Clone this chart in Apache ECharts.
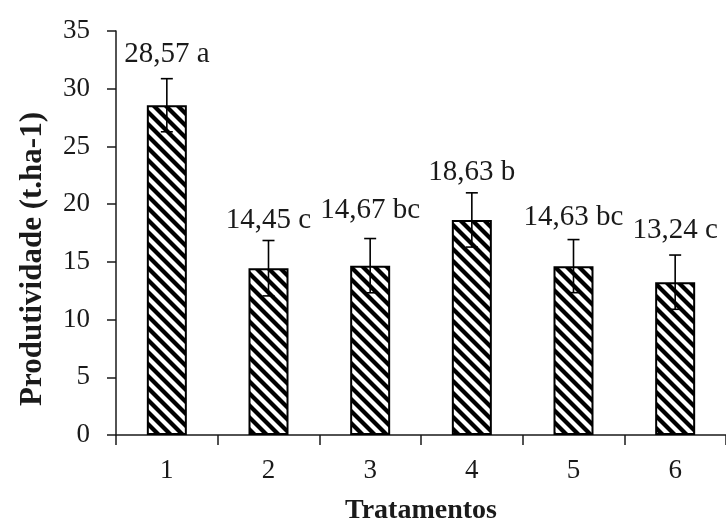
<!DOCTYPE html>
<html>
<head>
<meta charset="utf-8">
<script src="https://cdn.jsdelivr.net/npm/echarts@6/dist/echarts.min.js"></script>
<style>
  html, body { margin: 0; padding: 0; background: #fff; }
  #chart { width: 726px; height: 530px; }
</style>
</head>
<body>
<div id="chart"></div>
<script>
// Treatments and mean yield (t/ha) with error and Tukey letters
const categories = ['1', '2', '3', '4', '5', '6'];
const yieldMeans = [28.57, 14.45, 14.67, 18.63, 14.63, 13.24];
const yieldErrors = [2.3, 2.4, 2.35, 2.35, 2.3, 2.35];
const groupLetters = ['a', 'c', 'bc', 'b', 'bc', 'c'];
const yTicks = [0, 5, 10, 15, 20, 25, 30, 35];

const FONT = '"Liberation Serif", "Times New Roman", serif';
const INK = '#1a1a1a';

// Diagonal "\" hatch tile for the bar fill
function makeHatch() {
  const t = 12;
  const c = document.createElement('canvas');
  c.width = t; c.height = t;
  const g = c.getContext('2d');
  g.fillStyle = '#fff';
  g.fillRect(0, 0, t, t);
  g.strokeStyle = '#000';
  g.lineWidth = 4.2;
  [-t, 0, t].forEach(function (off) {
    g.beginPath();
    g.moveTo(off - 2, -2);
    g.lineTo(off + t + 2, t + 2);
    g.stroke();
  });
  return c;
}

function fmtValue(v) {
  return v.toFixed(2).replace('.', ',');
}

// Vertical lift of each label above its error cap, in pixels
const labelLift = [24, 20, 28, 20, 22, 25];

const chart = echarts.init(document.getElementById('chart'), null, { renderer: 'canvas' });

const errorData = yieldMeans.map(function (m, i) { return [i, m, yieldErrors[i]]; });

chart.setOption({
  animation: false,
  grid: { left: 116, top: 31, bottom: 90, width: 616 },
  xAxis: {
    type: 'category',
    data: categories,
    name: 'Tratamentos',
    nameLocation: 'middle',
    nameGap: 62,
    nameTextStyle: { fontFamily: FONT, fontSize: 28, fontWeight: 'bold', color: INK },
    axisLine: { lineStyle: { color: INK, width: 1.5 } },
    axisTick: { show: true, length: 10, lineStyle: { color: INK, width: 1.5 } },
    axisLabel: { fontFamily: FONT, fontSize: 27, color: INK, margin: 22 }
  },
  yAxis: {
    type: 'value',
    min: yTicks[0],
    max: yTicks[yTicks.length - 1],
    interval: 5,
    splitLine: { show: false },
    axisLine: { show: true, lineStyle: { color: INK, width: 1.5 } },
    axisTick: { show: true, length: 9, lineStyle: { color: INK, width: 1.5 } },
    axisLabel: { fontFamily: FONT, fontSize: 27, color: INK, margin: 26 }
  },
  graphic: [{
    type: 'text',
    x: 33,
    y: 259,
    rotation: Math.PI / 2,
    style: {
      text: 'Produtividade (t.ha-1)',
      font: 'bold 31px ' + FONT,
      fill: INK,
      align: 'center',
      verticalAlign: 'middle'
    }
  }],
  series: [
    {
      type: 'bar',
      data: yieldMeans,
      barWidth: 40,
      itemStyle: {
        color: { image: makeHatch(), repeat: 'repeat' },
        borderColor: '#000',
        borderWidth: 2
      }
    },
    {
      type: 'custom',
      data: errorData,
      z: 10,
      renderItem: function (params, api) {
        const i = api.value(0);
        const m = api.value(1);
        const e = api.value(2);
        const top = api.coord([i, m + e]);
        const bot = api.coord([i, m - e]);
        const cap = 6;
        const lineStyle = { stroke: '#000', lineWidth: 1.6 };
        return {
          type: 'group',
          children: [
            { type: 'line', shape: { x1: top[0], y1: top[1], x2: bot[0], y2: bot[1] }, style: lineStyle },
            { type: 'line', shape: { x1: top[0] - cap, y1: top[1], x2: top[0] + cap, y2: top[1] }, style: lineStyle },
            { type: 'line', shape: { x1: bot[0] - cap, y1: bot[1], x2: bot[0] + cap, y2: bot[1] }, style: lineStyle },
            {
              type: 'text',
              x: top[0],
              y: top[1] - labelLift[params.dataIndex],
              style: {
                text: fmtValue(m) + ' ' + groupLetters[params.dataIndex],
                font: '29px ' + FONT,
                fill: INK,
                align: 'center',
                verticalAlign: 'middle'
              }
            }
          ]
        };
      }
    }
  ]
});
</script>
</body>
</html>
